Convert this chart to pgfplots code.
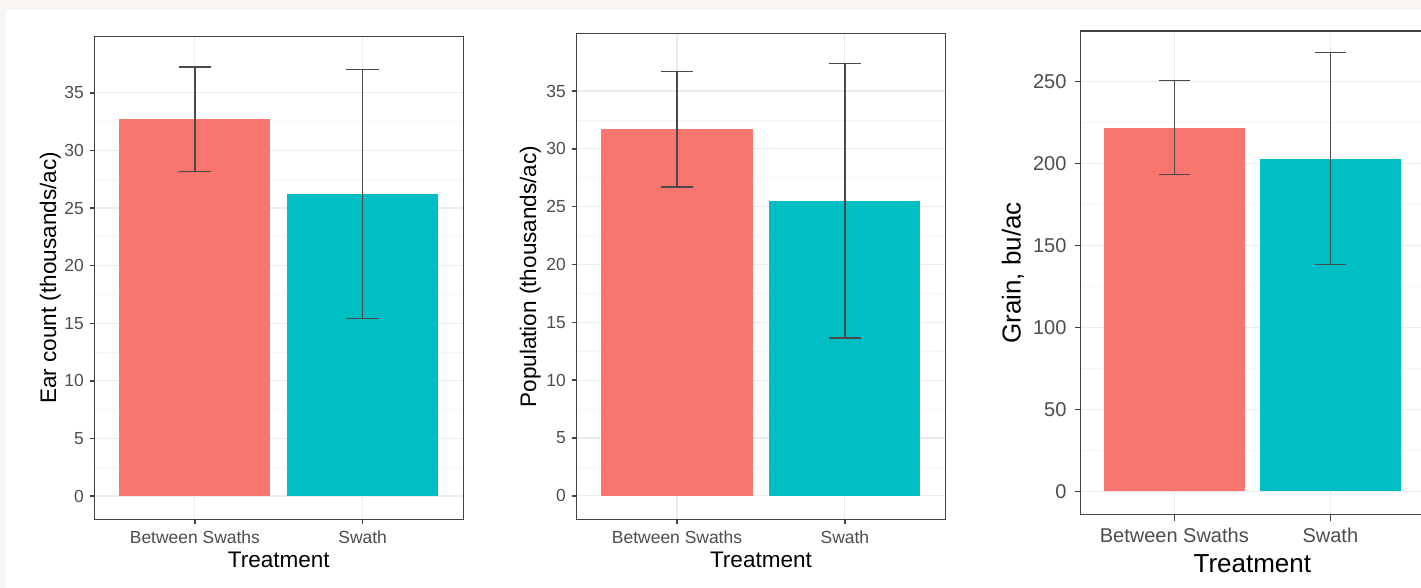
\documentclass[border=0pt]{standalone}
\usepackage{fontspec}
\setmainfont{Liberation Sans}
\usepackage{pgfplots}
\pgfplotsset{compat=1.18}
\definecolor{gpink}{HTML}{F8766D}
\definecolor{gteal}{HTML}{00BFC4}
\definecolor{bgbeige}{HTML}{F8F5F2}
\definecolor{gridmaj}{HTML}{EBEBEB}
\definecolor{gridmin}{HTML}{F5F5F5}
\definecolor{framec}{HTML}{444444}
\definecolor{ticklab}{HTML}{4D4D4D}
\definecolor{errc}{HTML}{4A4A4A}

\pgfplotsset{
  ggbar/.style={
    scale only axis,
    anchor=south west,
    xmin=0.4, xmax=2.6,
    xtick={1,2}, xticklabels={Between Swaths, Swath},
    tick align=outside, xtick pos=bottom, ytick pos=left,
    minor y tick num=1,
    xmajorgrids, ymajorgrids, yminorgrids,
    major grid style={draw=gridmaj, line width=0.85pt},
    minor grid style={draw=gridmin, line width=0.5pt},
    minor tick length=0pt,
    axis line style={draw=framec, line width=1.05pt},
    major tick style={draw=framec, line width=1.05pt},
    /pgf/number format/assume math mode=true,
    xlabel={Treatment},
  },
}

\begin{document}
\begin{tikzpicture}
\useasboundingbox (0pt,0pt) rectangle (1065.75pt,441pt);
\clip (0pt,0pt) rectangle (1065.75pt,441pt);
\fill[bgbeige] (0pt,0pt) rectangle (1065.75pt,441pt);
\fill[white] (4.5pt,0pt) rectangle (1065.75pt,433.5pt);

% Panel 1
\begin{axis}[ggbar,
  at={(70.7pt,51.45pt)}, width=276.75pt, height=362.25pt,
  ymin=-2.03, ymax=39.9, ytick={0,5,...,35},
  major tick length=3.4pt,
  ticklabel style={font=\fontsize{13.1pt}{15pt}\selectfont, text=ticklab},
  yticklabel style={anchor=east, inner sep=0pt, xshift=-4.3pt},
  xticklabel style={anchor=center, inner sep=0pt, yshift=-9.8pt},
  label style={font=\fontsize{16.9pt}{19pt}\selectfont, text=black},
  xlabel style={at={(axis description cs:0.5,-0.0834)}, anchor=center},
  ylabel style={at={(axis description cs:-0.1192,0.5)}, anchor=center},
  ylabel={Ear count (thousands/ac)},
]
\addplot[ybar, bar width=0.9, bar shift=0pt, draw=none, fill=gpink,
  error bars/.cd, y dir=both, y explicit, error mark=|,
  error bar style={draw=errc, line width=0.95pt},
  error mark options={draw=errc, line width=0.95pt, mark size=12.2pt}]
  coordinates {(1,32.7) +- (0,4.55)};
\addplot[ybar, bar width=0.9, bar shift=0pt, draw=none, fill=gteal,
  error bars/.cd, y dir=both, y explicit, error mark=|,
  error bar style={draw=errc, line width=0.95pt},
  error mark options={draw=errc, line width=0.95pt, mark size=12.2pt}]
  coordinates {(2,26.2) +- (0,10.8)};
\end{axis}

% Panel 2
\begin{axis}[ggbar,
  at={(432.2pt,51.45pt)}, width=277.05pt, height=364.2pt,
  ymin=-2.04, ymax=39.95, ytick={0,5,...,35},
  major tick length=3.4pt,
  ticklabel style={font=\fontsize{13.1pt}{15pt}\selectfont, text=ticklab},
  yticklabel style={anchor=east, inner sep=0pt, xshift=-4.3pt},
  xticklabel style={anchor=center, inner sep=0pt, yshift=-9.8pt},
  label style={font=\fontsize{16.9pt}{19pt}\selectfont, text=black},
  xlabel style={at={(axis description cs:0.5,-0.083)}, anchor=center},
  ylabel style={at={(axis description cs:-0.1245,0.5)}, anchor=center},
  ylabel={Population (thousands/ac)},
]
\addplot[ybar, bar width=0.9, bar shift=0pt, draw=none, fill=gpink,
  error bars/.cd, y dir=both, y explicit, error mark=|,
  error bar style={draw=errc, line width=0.95pt},
  error mark options={draw=errc, line width=0.95pt, mark size=12.2pt}]
  coordinates {(1,31.7) +- (0,5.0)};
\addplot[ybar, bar width=0.9, bar shift=0pt, draw=none, fill=gteal,
  error bars/.cd, y dir=both, y explicit, error mark=|,
  error bar style={draw=errc, line width=0.95pt},
  error mark options={draw=errc, line width=0.95pt, mark size=12.2pt}]
  coordinates {(2,25.5) +- (0,11.85)};
\end{axis}

% Panel 3
\begin{axis}[ggbar,
  at={(810.5pt,55.1pt)}, width=257.5pt, height=362.55pt,
  ymin=-14.2, ymax=280.7, ytick={0,50,...,250},
  major tick length=4.5pt,
  ticklabel style={font=\fontsize{15pt}{17pt}\selectfont, text=ticklab},
  yticklabel style={anchor=east, inner sep=0pt, xshift=-6pt},
  xticklabel style={anchor=center, inner sep=0pt, yshift=-11.25pt},
  label style={font=\fontsize{19.5pt}{22pt}\selectfont, text=black},
  xlabel style={at={(axis description cs:0.5,-0.1024)}, anchor=center},
  ylabel style={at={(axis description cs:-0.1972,0.5)}, anchor=center},
  ylabel={Grain, bu/ac},
]
\addplot[ybar, bar width=0.9, bar shift=0pt, draw=none, fill=gpink,
  error bars/.cd, y dir=both, y explicit, error mark=|,
  error bar style={draw=errc, line width=0.95pt},
  error mark options={draw=errc, line width=0.95pt, mark size=11.7pt}]
  coordinates {(1,221.9) +- (0,28.8)};
\addplot[ybar, bar width=0.9, bar shift=0pt, draw=none, fill=gteal,
  error bars/.cd, y dir=both, y explicit, error mark=|,
  error bar style={draw=errc, line width=0.95pt},
  error mark options={draw=errc, line width=0.95pt, mark size=11.7pt}]
  coordinates {(2,202.9) +- (0,64.75)};
\end{axis}
\end{tikzpicture}
\end{document}
